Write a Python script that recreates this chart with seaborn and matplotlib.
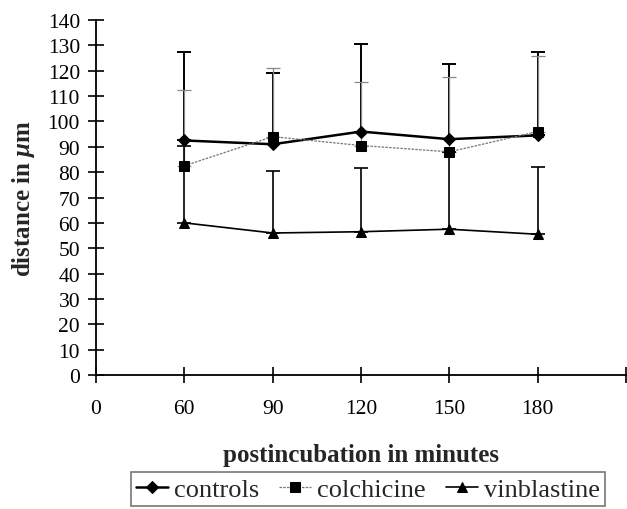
import numpy as np
import pandas as pd
import matplotlib
matplotlib.use('Agg')
import matplotlib.pyplot as plt
import seaborn as sns

# data
minutes = [60, 90, 120, 150, 180]
x_labels = ['0', '60', '90', '120', '150', '180']

controls = [92.5, 91.0, 96.0, 93.0, 94.5]
controls_up = [127.5, 119.0, 130.5, 122.6, 127.3]

colchicine = [82.5, 94.0, 90.5, 88.0, 96.0]
colchicine_up = [112.5, 121.0, 115.5, 117.5, 126.0]

vinblastine = [60.0, 56.0, 56.5, 57.5, 55.5]
vinblastine_up = [90.3, 80.5, 81.6, 88.0, 82.0]

sns.set_style('white')
plt.rcParams['font.family'] = ['Liberation Serif', 'DejaVu Serif']
plt.rcParams['mathtext.fontset'] = 'custom'
plt.rcParams['mathtext.it'] = 'Liberation Serif:italic:bold'

# positions on the category axis
xpos = [x_labels.index(str(m)) for m in minutes]

series = [
    ('controls', controls, controls_up, dict(color='black', lw=1.8, marker='D', ms=6.5, ls='-'),
     dict(color='black', lw=1.4, ls='-')),
    ('colchicine', colchicine, colchicine_up, dict(color='#777777', lw=0.9, marker='s', ms=7, ls=(0, (2, 1)), mfc='black', mec='black'),
     dict(color='#888888', lw=0.9, ls=(0, (2, 1)))),
    ('vinblastine', vinblastine, vinblastine_up, dict(color='black', lw=1.2, marker='^', ms=7.5, ls='-'),
     dict(color='black', lw=1.2, ls='-')),
]

fig = plt.figure(figsize=(6.27, 5.10), dpi=100)
ax = fig.add_axes([96/627, 134/510, 530/627, 355/510])

handles = []
for name, vals, ups, style, estyle in series:
    df = pd.DataFrame({'x': xpos, 'y': vals})
    lower = np.zeros(len(vals))
    upper = np.array(ups) - np.array(vals)
    ax.errorbar(df['x'], df['y'], yerr=[lower, upper], fmt='none', ecolor=estyle['color'],
                elinewidth=estyle['lw'], capsize=5, capthick=estyle['lw'], zorder=2)
    sns.lineplot(data=df, x='x', y='y', ax=ax, color=style['color'], lw=style['lw'],
                 marker=style['marker'], markersize=style['ms'], linestyle=style['ls'],
                 markerfacecolor=style.get('mfc', 'black'), markeredgecolor=style.get('mec', 'black'),
                 label=name, legend=False, zorder=3)
    handles.append(ax.get_lines()[-1])

ax.set_xlim(0, 6)
ax.set_ylim(0, 140)
ax.set_xticks(range(7))
ax.set_xticklabels(x_labels + [''])
ax.set_yticks(range(0, 141, 10))
ax.tick_params(axis='both', bottom=True, left=True, direction='inout', length=11, width=1.2,
               labelsize=15.5, colors='black')
ax.tick_params(axis='x', pad=12)
ax.tick_params(axis='y', pad=6)
for side in ['top', 'right']:
    ax.spines[side].set_visible(False)
for side in ['left', 'bottom']:
    ax.spines[side].set_color('black')
    ax.spines[side].set_linewidth(1.3)

ax.set_xlabel('postincubation in minutes', fontsize=18, fontweight='bold', labelpad=18)
ax.set_ylabel(r'distance in $\mu$m', fontsize=18, fontweight='bold', labelpad=8)

leg = fig.legend(handles, ['controls', 'colchicine', 'vinblastine'], loc='center',
                 bbox_to_anchor=(368/627, 20/510), ncol=3, fontsize=19, frameon=True,
                 fancybox=False, edgecolor='#555555', handlelength=1.2, handletextpad=0.25,
                 columnspacing=0.75, borderpad=0.2, labelspacing=0.2)
leg.get_frame().set_linewidth(1.2)

fig.savefig('out.png', dpi=100)
